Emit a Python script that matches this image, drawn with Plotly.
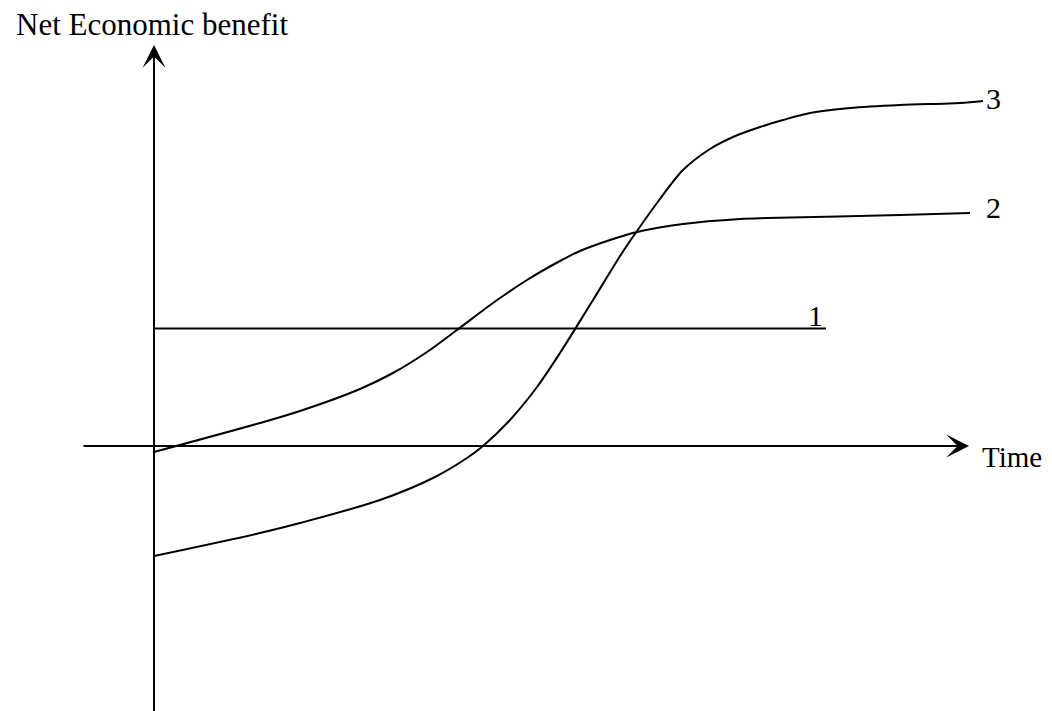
"""Schematic: net economic benefit over time for three options."""

import plotly.graph_objects as go

# option 1: constant benefit
t_line1 = [0.0, 6.72]
v_line1 = [1.175, 1.175]

# option 2: starts near zero, saturates at a medium level
t_curve2 = [0.0, 1.06, 1.46, 2.06, 2.39, 2.73, 3.03, 3.39, 3.73, 4.06,
            4.26, 4.56, 4.83, 5.29, 5.86, 6.13, 7.46, 8.16]
v_curve2 = [-0.06, 0.23, 0.35, 0.57, 0.73, 0.94, 1.16, 1.43, 1.66, 1.85,
            1.95, 2.06, 2.14, 2.22, 2.27, 2.28, 2.31, 2.33]

# option 3: starts negative, overtakes both later
t_curve3 = [0.0, 1.06, 1.46, 2.26, 2.79, 3.13, 3.29, 3.56, 3.83, 4.06,
            4.39, 4.68, 4.83, 5.03, 5.29, 5.56, 5.79, 6.06, 6.29, 6.56,
            6.96, 7.46, 8.06, 8.29]
v_curve3 = [-1.10, -0.87, -0.77, -0.54, -0.32, -0.12, 0.0, 0.26, 0.59, 0.93,
            1.46, 1.93, 2.15, 2.43, 2.76, 2.97, 3.09, 3.19, 3.26, 3.33,
            3.38, 3.41, 3.43, 3.45]

curve_labels = ["1", "2", "3"]
label_pos = [(6.61, 1.31), (8.39, 2.39), (8.39, 3.48)]

# the page body has an 8px margin, so the figure is sized to end at the window edge
X_RANGE = [-1.46, 8.98]
Y_RANGE = [-2.65, 4.38]
FONT = "Liberation Serif, Times New Roman, serif"
INK = "#000000"

fig = go.Figure()
fig.add_trace(go.Scatter(x=t_line1, y=v_line1, mode="lines",
                         line=dict(color=INK, width=2)))
for tx, vy in ((t_curve2, v_curve2), (t_curve3, v_curve3)):
    fig.add_trace(go.Scatter(x=tx, y=vy, mode="lines",
                             line=dict(color=INK, width=2, shape="spline",
                                       smoothing=0.9)))

# axes drawn as arrows through the origin
axis_arrow = dict(showarrow=True, arrowhead=3, arrowsize=1.9, arrowwidth=2,
                  arrowcolor=INK, axref="x", ayref="y", text="")
fig.add_annotation(x=8.15, y=0.0, ax=-0.72, ay=0.0, **axis_arrow)
fig.add_annotation(x=0.0, y=4.01, ax=0.0, ay=-2.7, **axis_arrow)

for txt, (lx, ly) in zip(curve_labels, label_pos):
    fig.add_annotation(x=lx, y=ly, text=txt, showarrow=False,
                       font=dict(family=FONT, size=30, color=INK))
# kept inside the right edge, which the page cuts at ~1044px
fig.add_annotation(x=8.58, y=-0.11, text="Time", showarrow=False,
                   font=dict(family=FONT, size=29, color=INK))
fig.add_annotation(x=-0.025, y=4.22, text="Net Economic benefit",
                   showarrow=False,
                   font=dict(family=FONT, size=31, color=INK))

fig.update_layout(
    width=1044,
    height=703,
    margin=dict(l=0, r=0, t=0, b=0),
    showlegend=False,
    plot_bgcolor="white",
    paper_bgcolor="white",
    xaxis=dict(range=X_RANGE, visible=False, fixedrange=True),
    yaxis=dict(range=Y_RANGE, visible=False, fixedrange=True),
)
fig.write_html("out.html")
